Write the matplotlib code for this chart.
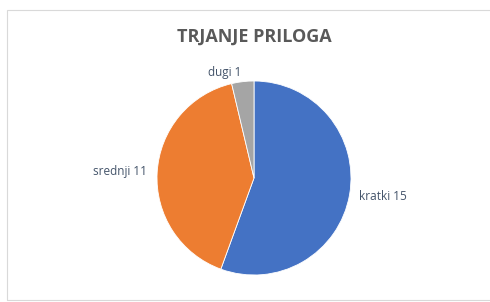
import numpy as np
import matplotlib.pyplot as plt
from matplotlib.patches import Rectangle

# Podaci
kategorije = ['kratki', 'srednji', 'dugi']
vrijednosti = [15, 11, 1]
boje = ['#4472C4', '#ED7D31', '#A5A5A5']

W, H = 490, 302
fig = plt.figure(figsize=(W / 100, H / 100), dpi=100)

# Okvir grafikona
fig.patches.append(Rectangle((7 / W, 2 / H), 1.2, (H - 12) / H, transform=fig.transFigure,
                             fill=False, edgecolor='#D9D9D9', linewidth=0.8))

# Pita: centar (254, 178) px, radijus 97 px
cx, cy, r = 254, 178, 97
ax = fig.add_axes([(cx - r) / W, (H - cy - r) / H, 2 * r / W, 2 * r / H])

oznake = [f'{k} {v}' for k, v in zip(kategorije, vrijednosti)]
wedges, texts = ax.pie(vrijednosti, labels=oznake, colors=boje, startangle=90,
                       counterclock=False, labeldistance=1.1,
                       wedgeprops=dict(edgecolor='white', linewidth=0.6),
                       textprops=dict(color='#44546A', fontsize=8.5, family='Open Sans'))
ax.set_xlim(-1, 1)
ax.set_ylim(-1, 1)
ax.set_aspect('auto')

fig.text(254 / W, 1 - 37 / H, 'TRJANJE PRILOGA', ha='center', va='center',
         fontsize=13, fontweight='bold', color='#595959', family='Open Sans')

fig.savefig('out.png', dpi=100)
